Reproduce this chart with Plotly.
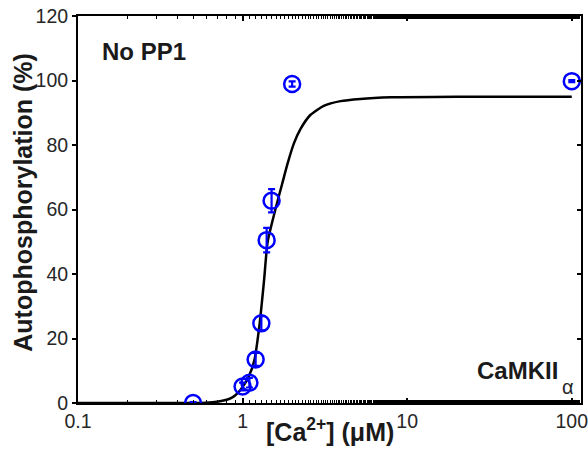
import plotly.graph_objects as go

# Data points (Ca2+ in uM, autophosphorylation %)
ca = [0.5, 1.0, 1.1, 1.2, 1.3, 1.4, 1.5, 2.0, 100]
auto = [0.0, 5.1, 6.3, 13.5, 24.7, 50.5, 62.7, 98.9, 99.8]
err = [0.3, 1.2, 1.5, 2.0, 2.2, 3.8, 3.6, 0.8, 0.3]

# Fitted curve
fit_x = [0.1, 0.5, 0.6, 0.7, 0.8, 0.85, 0.9, 0.97, 1.09, 1.18, 1.27, 1.35, 1.42, 1.6, 1.74, 1.87, 2.05, 2.25, 2.58, 3.11, 3.93, 5.19, 8, 20, 100]
fit_y = [0.0, 0.0, 0.1, 0.4, 1.0, 1.5, 2.3, 4.0, 8.2, 13.3, 24.7, 38.0, 50.0, 61.0, 68.0, 74.0, 80.5, 85.0, 89.3, 92.1, 93.6, 94.3, 94.8, 95.0, 95.0]

x_ticks = [0.1, 1, 10, 100]
x_labels = ["0.1", "1", "10", "100"]
y_ticks = [0, 20, 40, 60, 80, 100, 120]

FONT = "Liberation Sans, Arial, sans-serif"
XR = [-1, 2.056]
YR = [0, 120]

fig = go.Figure()
fig.add_trace(go.Scatter(x=fit_x, y=fit_y, mode="lines", line=dict(color="black", width=2.5, shape="spline", smoothing=0.6),
                         hoverinfo="skip", showlegend=False))
fig.add_trace(go.Scatter(x=ca, y=auto, mode="markers",
                         marker=dict(symbol="circle-open", size=16, color="#0000FF", line=dict(width=2.5, color="#0000FF")),
                         error_y=dict(type="data", array=err, color="#0000FF", thickness=2.2, width=3.5),
                         showlegend=False))
# invisible trace for mirrored axes
fig.add_trace(go.Scatter(x=[1], y=[0], xaxis="x2", yaxis="y2", mode="markers", marker=dict(opacity=0), showlegend=False, hoverinfo="skip"))

fig.update_layout(
    width=588, height=466,
    margin=dict(l=78, r=7, t=16, b=63),
    paper_bgcolor="white", plot_bgcolor="white",
    font=dict(family=FONT, size=20, color="#262626"),
    xaxis=dict(type="log", range=XR, tickvals=x_ticks, ticktext=x_labels, ticks="inside", ticklen=5,
               tickwidth=1.5, tickcolor="black", showline=True, linecolor="black", linewidth=2,
               showgrid=False, zeroline=False, automargin=False, ticklabeloverflow="allow",
               minor=dict(ticks="inside", ticklen=3, tickcolor="black", tickwidth=1.2, showgrid=False),
               tickfont=dict(size=19.5)),
    yaxis=dict(range=YR, tickvals=y_ticks, ticks="outside", ticklen=4, tickwidth=1.5, tickcolor="black",
               showline=True, linecolor="black", linewidth=2, showgrid=False, zeroline=False, automargin=False,
               ticklabeloverflow="allow", tickfont=dict(size=19.5)),
    xaxis2=dict(type="log", range=XR, overlaying="x", side="top", tickvals=x_ticks, ticks="inside", ticklen=5,
                tickwidth=1.5, tickcolor="black", showticklabels=False, showline=True, linecolor="black", linewidth=2,
                showgrid=False, zeroline=False, automargin=False,
                minor=dict(ticks="inside", ticklen=3, tickcolor="black", tickwidth=1.2, showgrid=False)),
    yaxis2=dict(range=YR, overlaying="y", side="right", tickvals=y_ticks, ticks="inside", ticklen=4, tickwidth=1.5,
                tickcolor="black", showticklabels=False, showline=True, linecolor="black", linewidth=2,
                showgrid=False, zeroline=False, automargin=False),
    annotations=[
        dict(text="<b>[Ca<sup>2+</sup>] (μM)</b>", x=0.5, y=-0.07, xref="paper", yref="paper",
             xanchor="center", yanchor="middle", showarrow=False, font=dict(size=25, color="#1a1a1a")),
        dict(text="<b>Autophosphorylation (%)</b>", x=-0.111, y=0.518, xref="paper", yref="paper", textangle=-90,
             xanchor="center", yanchor="middle", showarrow=False, font=dict(size=25, color="#1a1a1a")),
        dict(text="<b>No PP1</b>", x=0.043, y=0.908, xref="paper", yref="paper", xanchor="left", yanchor="middle",
             showarrow=False, font=dict(size=24, color="#1a1a1a")),
        dict(text="<b>CaMKII</b>", x=0.958, y=0.083, xref="paper", yref="paper", xanchor="right", yanchor="middle",
             showarrow=False, font=dict(size=24, color="#1a1a1a")),
        dict(text="α", x=0.99, y=0.041, xref="paper", yref="paper", xanchor="right", yanchor="middle",
             showarrow=False, font=dict(size=20, color="#262626")),
    ],
)

fig.write_html("out.html", config={"displayModeBar": False}, post_script="document.body.style.margin='0';")
